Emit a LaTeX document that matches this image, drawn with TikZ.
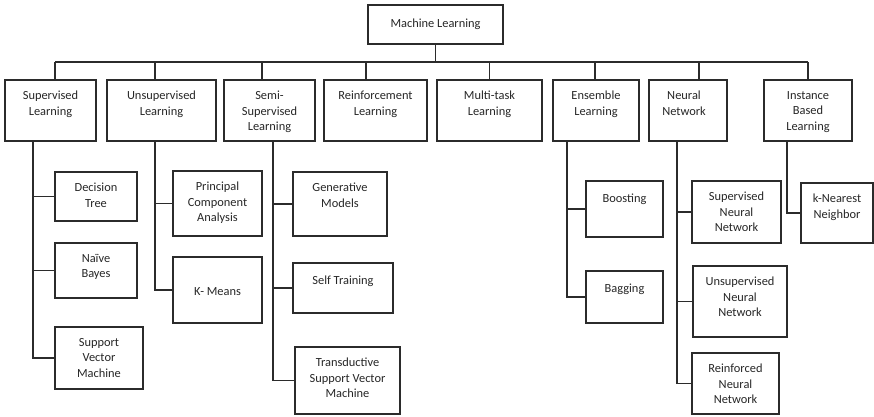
\documentclass[tikz,border=0pt]{standalone}
\usepackage{fontspec}
\setmainfont{Carlito}
\usetikzlibrary{positioning}
\definecolor{mlline}{HTML}{2B2B2B}
\definecolor{mltext}{HTML}{262626}

\begin{document}
\begin{tikzpicture}[x=1pt,y=-1pt,
    box/.style={draw=mlline,line width=1.3pt,inner sep=0pt},
    txt/.style={anchor=north,align=center,inner sep=0pt,yshift=-11.5pt,text=mltext,font=\fontsize{12.4}{15.5}\selectfont,execute at begin node=\strut},
    link/.style={draw=mlline,line width=1.3pt}]
  \useasboundingbox (0,0) rectangle (874,416);
  \node[box,minimum width=135,minimum height=39,text=mltext,font=\fontsize{12.4}{15.5}\selectfont] (ml) at (435.5,24.5) {Machine Learning};

  \node[box,minimum width=91,minimum height=61,label={[txt]north:Supervised\\Learning}] (sup) at (50.5,110.5) {};
  \node[box,minimum width=109,minimum height=61,label={[txt]north:Unsupervised\\Learning}] (uns) at (161.5,110.5) {};
  \node[box,minimum width=91,minimum height=61,label={[txt]north:Semi-\\Supervised\\Learning}] (semi) at (269.5,110.5) {};
  \node[box,minimum width=103,minimum height=61,label={[txt]north:Reinforcement\\Learning}] (rein) at (375.5,110.5) {};
  \node[box,minimum width=105,minimum height=61,label={[txt]north:Multi-task\\Learning}] (multi) at (489.5,110.5) {};
  \node[box,minimum width=86,minimum height=61,label={[txt]north:Ensemble\\Learning}] (ens) at (596,110.5) {};
  \node[box,minimum width=78,minimum height=61,label={[txt,xshift=-4pt]north:Neural\\Network}] (nn) at (688,110.5) {};
  \node[box,minimum width=88,minimum height=61,label={[txt]north:Instance\\Based\\Learning}] (inst) at (808,110.5) {};

  \node[box,minimum width=82,minimum height=49,label={[txt]north:Decision\\Tree}] (dt) at (96,196.5) {};
  \node[box,minimum width=82,minimum height=55,label={[txt]north:Naïve\\Bayes}] (nb) at (96,270.5) {};
  \node[box,minimum width=88,minimum height=62,label={[txt]north:Support\\Vector\\Machine}] (svm) at (99,358) {};
  \node[box,minimum width=89,minimum height=65,label={[txt]north:Principal\\Component\\Analysis}] (pca) at (217.5,203.5) {};
  \node[box,minimum width=89,minimum height=66,label={[txt,yshift=-16.5pt]north:K- Means}] (km) at (217.5,290) {};
  \node[box,minimum width=94,minimum height=64,label={[txt]north:Generative\\Models}] (gen) at (340,204) {};
  \node[box,minimum width=100,minimum height=50,label={[txt]north:Self Training}] (st) at (343,288) {};
  \node[box,minimum width=105,minimum height=67,label={[txt]north:Transductive\\Support Vector\\Machine}] (tsvm) at (347.5,380.5) {};
  \node[box,minimum width=77,minimum height=56,label={[txt]north:Boosting}] (boost) at (624.5,209) {};
  \node[box,minimum width=77,minimum height=52,label={[txt]north:Bagging}] (bag) at (624.5,297) {};
  \node[box,minimum width=89,minimum height=62,label={[txt]north:Supervised\\Neural\\Network}] (snn) at (736.5,212) {};
  \node[box,minimum width=94,minimum height=71,label={[txt]north:Unsupervised\\Neural\\Network}] (unn) at (740,301.5) {};
  \node[box,minimum width=87,minimum height=61,label={[txt]north:Reinforced\\Neural\\Network}] (rnn) at (735.5,383.5) {};
  \node[box,minimum width=72,minimum height=60,label={[txt]north:k-Nearest\\Neighbor}] (knn) at (837,213) {};

  \coordinate (bus) at (435.5,62);
  \draw[link] (ml.south) -- (bus);
  \draw[link] ([xshift=4.5pt]sup.north |- bus) -- (inst.north |- bus);
  \foreach \n/\dx in {sup/4.5,uns/-6.5,semi/-7.5,rein/-9.5,multi/0,ens/-1,nn/11,inst/0}
    \draw[link] ([xshift=\dx pt]\n.north) -- ([xshift=\dx pt]\n.north |- bus);
  \foreach \p/\dx/\c in {sup/-17.5/dt,sup/-17.5/nb,sup/-17.5/svm,uns/-6.5/pca,uns/-6.5/km,semi/3.5/gen,semi/3.5/st,semi/3.5/tsvm,ens/-29/boost,ens/-29/bag,nn/-11/snn,nn/-11/unn,nn/-11/rnn,inst/-21/knn}
    \draw[link] ([xshift=\dx pt]\p.south) |- (\c.west);
\end{tikzpicture}
\end{document}
